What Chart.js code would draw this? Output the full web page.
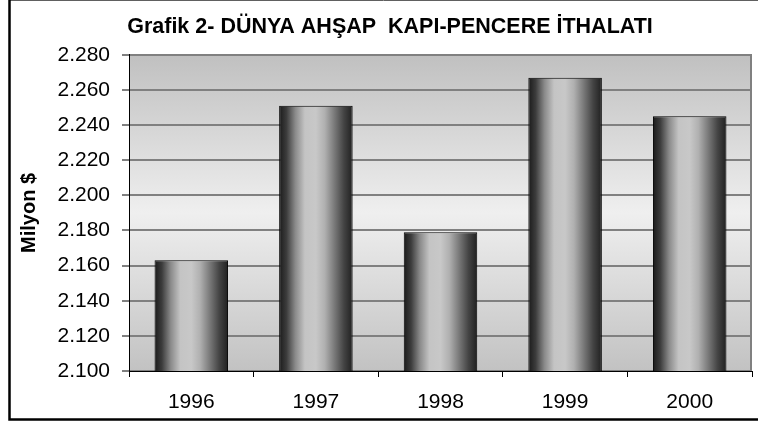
<!DOCTYPE html>
<html lang="tr">
<head>
<meta charset="utf-8">
<title>Grafik 2- Dünya Ahşap Kapı-Pencere İthalatı</title>
<script src="https://cdn.jsdelivr.net/npm/chart.js@4/dist/chart.umd.min.js"></script>
<style>
    html, body { margin: 0; padding: 0; background: #fff; }
    #wrap { position: relative; width: 758px; height: 425px; }
</style>
</head>
<body>
<div id="wrap"><canvas id="importChart" width="758" height="425"></canvas></div>
<script>
// Veriler (milyon $)
const years = ['1996', '1997', '1998', '1999', '2000'];
const imports = [2163, 2251, 2179, 2267, 2245];

// Eksen ayarları
const yMin = 2100;
const yMax = 2280;
const yStep = 20;

const TITLE = 'Grafik 2- DÜNYA AHŞAP  KAPI-PENCERE İTHALATI';
const Y_TITLE = 'Milyon $';
const FONT = "'Liberation Sans', Arial, sans-serif";

// 2280 -> "2.280"
function formatTr(v) {
    const s = String(Math.round(v));
    return s.replace(/\B(?=(\d{3})+(?!\d))/g, '.');
}

// Silindir görünümlü çubuk degradesi
function barGradient(context) {
    const chart = context.chart;
    const area = chart.chartArea;
    const xScale = chart.scales.x;
    if (!area || !xScale) return '#999';
    const cx = xScale.getPixelForValue(context.dataIndex);
    const w = (area.width / years.length) * 0.59;
    const g = chart.ctx.createLinearGradient(cx - w / 2, 0, cx + w / 2, 0);
    g.addColorStop(0, '#1a1a1a');
    g.addColorStop(0.1, '#3c3c3c');
    g.addColorStop(0.22, '#8a8a8a');
    g.addColorStop(0.35, '#c4c4c4');
    g.addColorStop(0.5, '#c8c8c8');
    g.addColorStop(0.62, '#b0b0b0');
    g.addColorStop(0.75, '#7a7a7a');
    g.addColorStop(0.88, '#444444');
    g.addColorStop(1, '#202020');
    return g;
}

// Arka plan, çizim alanı çerçevesi, dış kenarlık
const frame = {
    id: 'frame',
    beforeDraw(chart) {
        const { ctx, chartArea: a } = chart;
        ctx.save();
        const g = ctx.createLinearGradient(0, a.top, 0, a.bottom);
        g.addColorStop(0, '#c0c0c0');
        g.addColorStop(0.5, '#efefef');
        g.addColorStop(1, '#c2c2c2');
        ctx.fillStyle = g;
        ctx.fillRect(a.left, a.top, a.right - a.left, a.bottom - a.top);
        ctx.strokeStyle = '#808080';
        ctx.lineWidth = 2;
        ctx.beginPath();
        ctx.moveTo(a.right - 1, a.top);
        ctx.lineTo(a.right - 1, a.bottom);
        ctx.stroke();
        ctx.restore();
    },
    afterDraw(chart) {
        const ctx = chart.ctx;
        ctx.save();
        ctx.strokeStyle = '#606060';
        ctx.lineWidth = 1;
        ctx.beginPath();
        ctx.moveTo(9, 0.5);
        ctx.lineTo(758, 0.5);
        ctx.stroke();
        ctx.strokeStyle = '#000';
        ctx.lineWidth = 2.5;
        ctx.beginPath();
        ctx.moveTo(9.5, 0);
        ctx.lineTo(9.5, 419.5);
        ctx.lineTo(758, 419.5);
        ctx.stroke();
        ctx.restore();
    }
};

new Chart(document.getElementById('importChart'), {
    type: 'bar',
    data: {
        labels: years,
        datasets: [{
            label: Y_TITLE,
            data: imports,
            backgroundColor: barGradient,
            borderColor: '#000',
            borderWidth: 1,
            borderSkipped: false,
            barPercentage: 0.59,
            categoryPercentage: 1
        }]
    },
    options: {
        responsive: false,
        animation: false,
        layout: {
            padding: { left: 28, right: 6, top: 0, bottom: 0 }
        },
        plugins: {
            legend: { display: false },
            tooltip: { enabled: false },
            title: {
                display: true,
                text: TITLE,
                color: '#000',
                font: { family: FONT, size: 21.5, weight: 'bold', lineHeight: 1.2 },
                padding: { top: 14, bottom: 15 }
            }
        },
        scales: {
            x: {
                offset: true,
                grid: {
                    display: true,
                    offset: true,
                    drawOnChartArea: false,
                    color: '#000',
                    tickLength: 6
                },
                border: { color: '#000', width: 1 },
                ticks: {
                    color: '#000',
                    padding: 13,
                    font: { family: FONT, size: 21 }
                },
                afterFit(scale) { scale.height = 54; }
            },
            y: {
                min: yMin,
                max: yMax,
                grid: {
                    color: '#808080',
                    lineWidth: 2,
                    tickColor: '#000',
                    tickWidth: 1,
                    tickLength: 7
                },
                border: { color: '#000', width: 1 },
                ticks: {
                    stepSize: yStep,
                    color: '#000',
                    padding: 12,
                    font: { family: FONT, size: 21 },
                    callback: function(value) { return formatTr(value); }
                },
                title: {
                    display: true,
                    text: Y_TITLE,
                    color: '#000',
                    font: { family: FONT, size: 20, weight: 'bold', lineHeight: 1.2 },
                    padding: { top: -11, bottom: 0 }
                },
                afterFit(scale) { scale.width = 101; }
            }
        }
    },
    plugins: [frame]
});
</script>
</body>
</html>
